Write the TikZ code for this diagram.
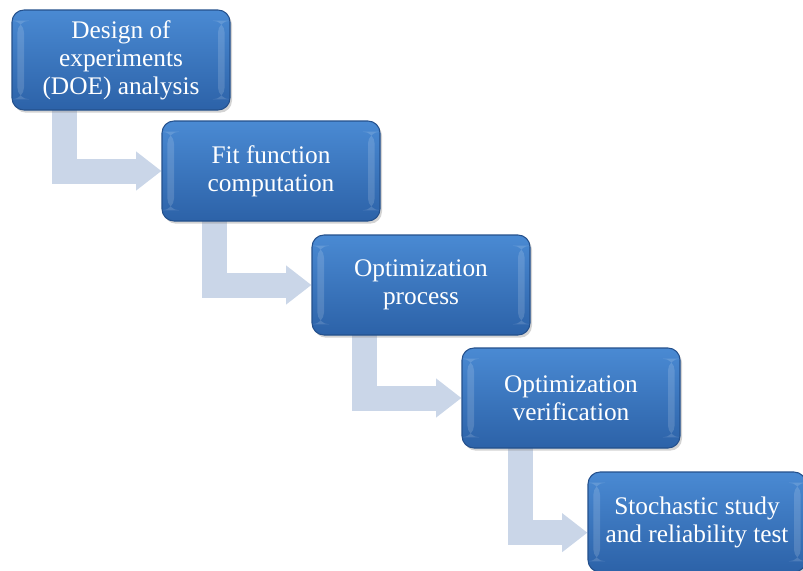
\documentclass[tikz,border=0pt]{standalone}
\usepackage{fontspec}
\setmainfont{Liberation Serif}
\usetikzlibrary{
    arrows.meta,
    positioning,
    shadows,
    backgrounds,
}
\definecolor{boxtop}{HTML}{4A8AD3}
\definecolor{boxmid}{HTML}{3B78C4}
\definecolor{boxbottom}{HTML}{2C62A8}
\definecolor{boxedge}{HTML}{24508C}
\definecolor{flowblue}{HTML}{CAD6E8}

\begin{document}
\begin{tikzpicture}[x=0.75pt, y=-0.75pt,
        stage/.style={rectangle, rounded corners=9pt, draw=boxedge, line width=0.8pt,
            top color=boxtop, middle color=boxmid, bottom color=boxbottom,
            minimum width=163.5pt, minimum height=75pt, inner sep=2pt,
            text=white, align=center, font=\fontsize{19}{21}\selectfont,
            drop shadow={opacity=0.35, shadow xshift=1.5pt, shadow yshift=-2pt},
            path picture={
                \fill[white, opacity=0.15] ([xshift=4pt, yshift=-8pt]path picture bounding box.north west)
                    rectangle ([xshift=9pt, yshift=8pt]path picture bounding box.south west);
                \fill[white, opacity=0.15] ([xshift=-4pt, yshift=-8pt]path picture bounding box.north east)
                    rectangle ([xshift=-9pt, yshift=8pt]path picture bounding box.south east);
            }},
        flow/.style={draw=flowblue, line width=18.75pt, line join=miter,
            -{Triangle[length=19pt, width=28pt]}},
    ]
        \useasboundingbox (0,0) rectangle (803,571);

        % Stages
        \node[stage] (doe) at (121, 60) {Design of\\experiments\\(DOE) analysis};
        \node[stage] (fit) at (271, 171) {Fit function\\computation};
        \node[stage] (opt) at (421, 285) {Optimization\\process};
        \node[stage] (ver) at (571, 398) {Optimization\\verification};
        \node[stage] (sto) at (697, 522) {Stochastic study\\and reliability test};

        % Flow arrows
        \coordinate (s1) at (64, 105);
        \coordinate (s2) at (214, 215);
        \coordinate (s3) at (364, 330);
        \coordinate (s4) at (520, 443);
        \begin{scope}[on background layer]
            \draw[flow] (s1) |- (fit.west);
            \draw[flow] (s2) |- (opt.west);
            \draw[flow] (s3) |- (ver.west);
            \draw[flow] (s4) |- ([yshift=-8pt]sto.west);
        \end{scope}
    \end{tikzpicture}
\end{document}
